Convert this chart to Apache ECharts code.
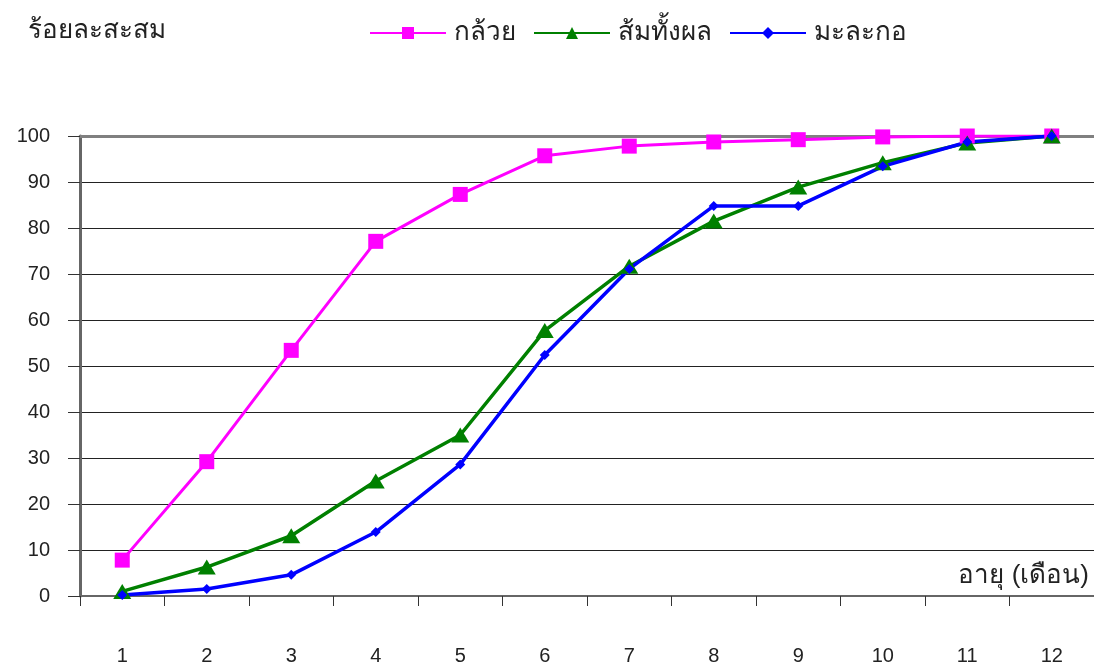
<!DOCTYPE html>
<html>
<head>
<meta charset="utf-8">
<script src="https://cdn.jsdelivr.net/npm/echarts@6/dist/echarts.min.js"></script>
<style>
  html, body { margin: 0; padding: 0; background: #fff; overflow: hidden; }
  #chart { width: 1094px; height: 668px; }
</style>
</head>
<body>
<div id="chart"></div>
<script>
// Age in months
const months = ['1', '2', '3', '4', '5', '6', '7', '8', '9', '10', '11', '12'];
// Cumulative percentage per fruit
const banana = [7.8, 29.2, 53.4, 77.1, 87.3, 95.7, 97.8, 98.7, 99.2, 99.8, 100, 100];
const orange = [1.0, 6.3, 13.1, 25.0, 35.0, 57.7, 71.7, 81.5, 88.9, 94.2, 98.5, 100];
const papaya = [0.2, 1.5, 4.6, 13.9, 28.6, 52.4, 71.1, 84.8, 84.8, 93.4, 98.7, 100];

const seriesNames = ['กล้วย', 'ส้มทั้งผล', 'มะละกอ'];
const yTitle = 'ร้อยละสะสม';
const xTitle = 'อายุ (เดือน)';

const thaiFont = 'Tahoma, "Liberation Sans", "DejaVu Sans", sans-serif';
const numFont = '"Liberation Sans", Arial, sans-serif';

const chart = echarts.init(document.getElementById('chart'));
chart.setOption({
  animation: false,
  backgroundColor: '#fff',
  grid: { left: 80, top: 136, width: 1017, height: 460 },
  title: {
    text: yTitle, left: 23, top: 13,
    textStyle: { fontFamily: thaiFont, fontSize: 26, fontWeight: 'normal', color: '#222' }
  },
  legend: {
    top: 15, left: 364,
    itemWidth: 76, itemHeight: 15, itemGap: 17,
    textStyle: { fontFamily: thaiFont, fontSize: 26, color: '#222', padding: [0, 0, 0, 3] },
    data: seriesNames
  },
  graphic: [{
    type: 'text', right: 5, top: 563,
    style: { text: xTitle, fontFamily: thaiFont, fontSize: 26, fill: '#222' }
  }],
  xAxis: [
    {
      type: 'category', data: months, boundaryGap: true,
      axisLine: { lineStyle: { color: '#666', width: 2 } },
      axisTick: { show: true, length: 10, lineStyle: { color: '#333', width: 1 } },
      axisLabel: { margin: 50, fontFamily: numFont, fontSize: 20, color: '#222' },
      splitLine: { show: false }
    },
    {
      // top edge of the plot area
      type: 'category', data: months, position: 'top',
      axisLine: { lineStyle: { color: '#808080', width: 3 } },
      axisTick: { show: false }, axisLabel: { show: false }, splitLine: { show: false }
    }
  ],
  yAxis: {
    type: 'value', min: 0, max: 100, interval: 10,
    axisLine: { show: true, lineStyle: { color: '#666', width: 3 } },
    axisTick: { show: true, length: 12, lineStyle: { color: '#333', width: 1 } },
    axisLabel: { margin: 30, fontFamily: numFont, fontSize: 20, color: '#222' },
    splitLine: { show: true, lineStyle: { color: '#222', width: 1 } }
  },
  series: [
    {
      name: seriesNames[0], type: 'line', data: banana,
      symbol: 'rect', symbolSize: 15,
      lineStyle: { color: '#FF00FF', width: 3 },
      itemStyle: { color: '#FF00FF' }
    },
    {
      name: seriesNames[1], type: 'line', data: orange,
      symbol: 'triangle', symbolSize: [18, 15],
      lineStyle: { color: '#008000', width: 3.5 },
      itemStyle: { color: '#008000' }
    },
    {
      name: seriesNames[2], type: 'line', data: papaya,
      symbol: 'diamond', symbolSize: 10,
      lineStyle: { color: '#0000FF', width: 3.5 },
      itemStyle: { color: '#0000FF' }
    }
  ]
});
</script>
</body>
</html>
